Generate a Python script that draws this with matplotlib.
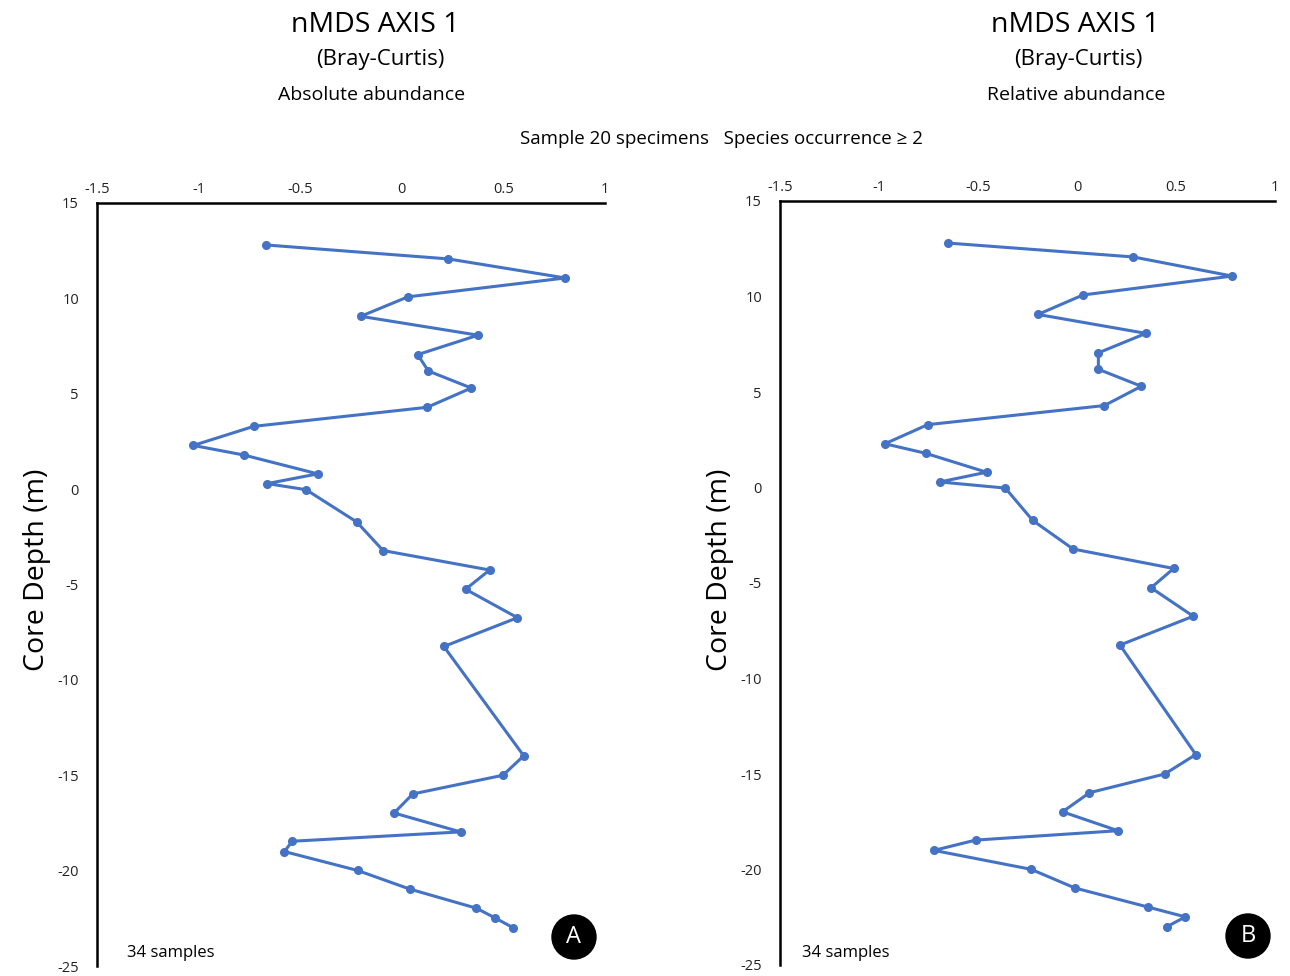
import numpy as np
import matplotlib
matplotlib.use("Agg")
import matplotlib.pyplot as plt
from matplotlib.patches import Ellipse

plt.rcParams["font.family"] = ["Open Sans", "DejaVu Sans"]
plt.rcParams["axes.unicode_minus"] = False

##########################
### Data ###
##########################

depth = [12.8, 12.07, 11.07, 10.08, 9.06, 8.07, 7.05, 6.19, 5.3, 4.29,
         3.29, 2.29, 1.79, 0.8, 0.29, -0.03, -1.72, -3.22, -4.24, -5.25,
         -6.74, -8.25, -13.98, -15.0, -15.98, -16.98, -17.97, -18.46, -19.0, -19.99,
         -20.97, -21.97, -22.48, -23.0]

axis1_absolute = [-0.668, 0.228, 0.804, 0.030, -0.202, 0.375, 0.078, 0.131, 0.342, 0.125,
                  -0.729, -1.026, -0.778, -0.414, -0.662, -0.471, -0.222, -0.092, 0.432, 0.314,
                  0.569, 0.207, 0.600, 0.498, 0.054, -0.038, 0.289, -0.539, -0.578, -0.218,
                  0.040, 0.367, 0.459, 0.549]

axis1_relative = [-0.654, 0.285, 0.783, 0.030, -0.197, 0.348, 0.108, 0.108, 0.325, 0.138,
                  -0.754, -0.970, -0.764, -0.457, -0.693, -0.362, -0.224, -0.020, 0.488, 0.374,
                  0.587, 0.217, 0.600, 0.443, 0.063, -0.073, 0.207, -0.512, -0.722, -0.232,
                  -0.010, 0.360, 0.547, 0.453]

x_ticks = [-1.5, -1, -0.5, 0, 0.5, 1]
x_tick_labels = ["-1.5", "-1", "-0.5", "0", "0.5", "1"]
y_ticks = [15, 10, 5, 0, -5, -10, -15, -20, -25]

# panel rects in pixels: left, bottom, width, height
panels = [
    {"x": axis1_absolute, "sub": "Absolute abundance", "letter": "A",
     "rect": [97, 10, 508, 763], "circle": (574, 937), "note": 127,
     "title_x": (375, 380, 372)},
    {"x": axis1_relative, "sub": "Relative abundance", "letter": "B",
     "rect": [780, 11, 495, 764], "circle": (1248, 936), "note": 802,
     "title_x": (1075, 1078, 1076)},
]

W, H = 1290, 976
blue = "#4472C4"

fig = plt.figure(figsize=(12.9, 9.76), dpi=100)

for p in panels:
    l, b, w, h = p["rect"]
    ax = fig.add_axes([l/W, b/H, w/W, h/H])
    ax.plot(p["x"], depth, color=blue, lw=2.2, marker="o", ms=5.5,
            markerfacecolor=blue, markeredgecolor=blue, zorder=3)
    ax.set_xlim(-1.5, 1)
    ax.set_ylim(-25, 15)
    ax.set_xticks(x_ticks)
    ax.set_xticklabels(x_tick_labels)
    ax.set_yticks(y_ticks)
    ax.xaxis.tick_top()
    ax.tick_params(axis="x", length=0, pad=4.5, labelsize=10.5, colors="#222222")
    ax.tick_params(axis="y", length=0, pad=13, labelsize=10.5, colors="#222222")
    for s in ["right", "bottom"]:
        ax.spines[s].set_visible(False)
    for s in ["top", "left"]:
        ax.spines[s].set_linewidth(1.8)
        ax.spines[s].set_color("black")

    # panel letter in black circle
    cx, cy = p["circle"]
    fig.patches.append(Ellipse((cx/W, 1 - cy/H), 44/W, 44/H, transform=fig.transFigure,
                               facecolor="black", edgecolor="black", zorder=5))
    fig.text(cx/W, 1 - cy/H, p["letter"], color="white", fontsize=17,
             ha="center", va="center", zorder=6)

    fig.text(p["note"]/W, 1 - 953/H, "34 samples", fontsize=12, ha="left", va="center")

    tx1, tx2, tx3 = p["title_x"]
    fig.text(tx1/W, 1 - 25/H, "nMDS AXIS 1", fontsize=20.5, ha="center", va="center")
    fig.text(tx2/W, 1 - 59/H, "(Bray-Curtis)", fontsize=16, ha="center", va="center")
    fig.text(tx3/W, 1 - 95/H, p["sub"], fontsize=14, ha="center", va="center")

    # y axis label
    fig.text((l - 60)/W, 1 - 570/H, "Core Depth (m)", fontsize=20.5, rotation=90,
             ha="center", va="center")

fig.text(721/W, 1 - 139/H, "Sample 20 specimens   Species occurrence \u2265 2",
         fontsize=13.5, ha="center", va="center")

fig.savefig("out.png", dpi=100)
